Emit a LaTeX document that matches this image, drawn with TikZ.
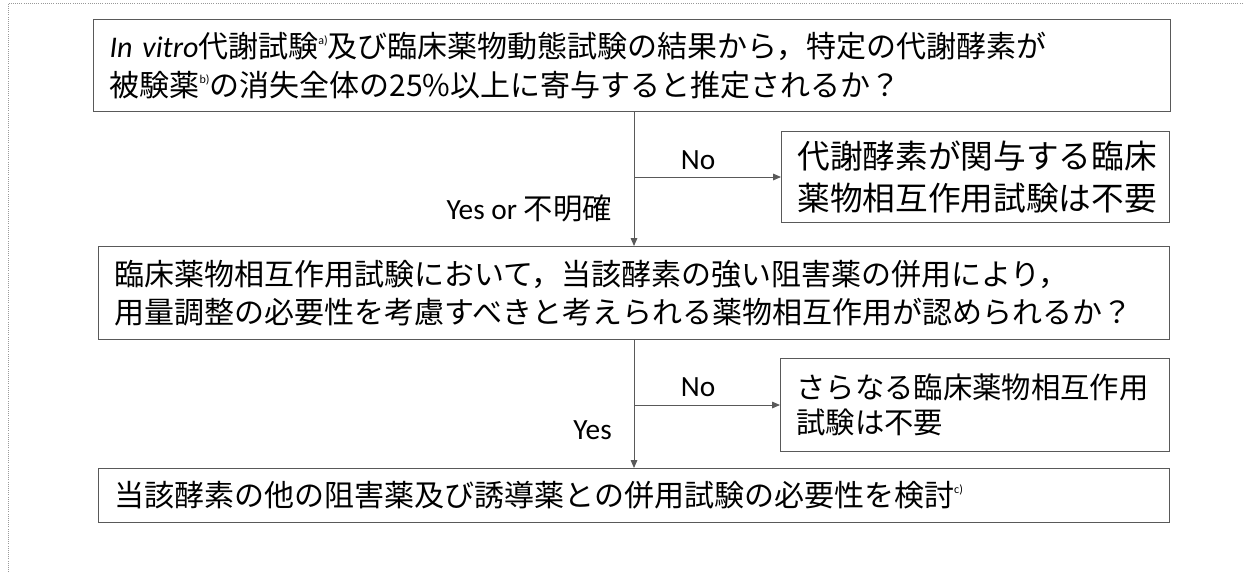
\documentclass[tikz,border=0pt]{standalone}
\usepackage{fontspec}
\setmainfont{Noto Sans CJK JP}
\newfontfamily\latinfont{Carlito}
\usetikzlibrary{arrows.meta}
\newcommand{\fnmark}[1]{\raisebox{0.8ex}{\fontsize{9pt}{9pt}\selectfont\latinfont #1}}
\tikzset{
  box/.style={draw=black!65, line width=0.75pt, rectangle, anchor=north west, align=left, inner xsep=12pt, inner ysep=0pt},
  arr/.style={draw=black!65, line width=0.75pt, -{Triangle[length=6pt,width=5pt]}},
  lbl/.style={inner sep=0.75pt, font=\fontsize{22pt}{26pt}\selectfont}
}
\begin{document}
\begin{tikzpicture}[x=0.75pt,y=0.75pt,yscale=-1]
\useasboundingbox (0,0) rectangle (1244,572);

%Shape: Frame
\draw[black!40, densely dotted, line width=0.6pt] (8,572) -- (8,3) -- (1244,3);

%Shape: Rectangle [question 1]
\node[box, text width=783.75pt, minimum height=69pt, font=\fontsize{22.5pt}{29pt}\selectfont] (q1) at (93,19)
  {{\latinfont\itshape In vitro}代謝試験\fnmark{a)}及び臨床薬物動態試験の結果から，特定の代謝酵素が\\被験薬\fnmark{b)}の消失全体の25\%以上に寄与すると推定されるか？};
%Shape: Rectangle [answer 1]
\node[box, text width=267pt, minimum height=68.25pt, font=\fontsize{24.5pt}{32pt}\selectfont] (q2) at (781,131)
  {代謝酵素が関与する臨床\\薬物相互作用試験は不要};
%Shape: Rectangle [question 2]
\node[box, text width=779.25pt, minimum height=69.75pt, font=\fontsize{22.5pt}{29pt}\selectfont] (q3) at (98,246)
  {臨床薬物相互作用試験において，当該酵素の強い阻害薬の併用により，\\用量調整の必要性を考慮すべきと考えられる薬物相互作用が認められるか？};
%Shape: Rectangle [answer 2]
\node[box, text width=267.75pt, minimum height=69.75pt, font=\fontsize{22pt}{26.5pt}\selectfont] (q4) at (780,358)
  {さらなる臨床薬物相互作用\\試験は不要};
%Shape: Rectangle [result]
\node[box, text width=779.25pt, minimum height=40.5pt, font=\fontsize{22.5pt}{29pt}\selectfont] (q5) at (98,468)
  {当該酵素の他の阻害薬及び誘導薬との併用試験の必要性を検討\fnmark{c)}};

%Straight Lines
\draw[arr] (q3.north |- q1.south) -- (q3.north);
\coordinate (j1) at (q3.north |- q2.west);
\draw[arr] (j1) -- (q2.west);
%Straight Lines
\draw[arr] (q3.south) -- (q5.north);
\coordinate (j2) at (q3.south |- q4.west);
\draw[arr] (j2) -- (q4.west);

% Text Node
\node[lbl] (no1) at (698,160) {\latinfont No};
% Text Node
\node[lbl, anchor=east] (yes1) at (613,208) {{\latinfont Yes or }不明確};
% Text Node
\node[lbl] (no2) at (698,387) {\latinfont No};
% Text Node
\node[lbl, anchor=east] (yes2) at (613,430) {\latinfont Yes};

\end{tikzpicture}
\end{document}
